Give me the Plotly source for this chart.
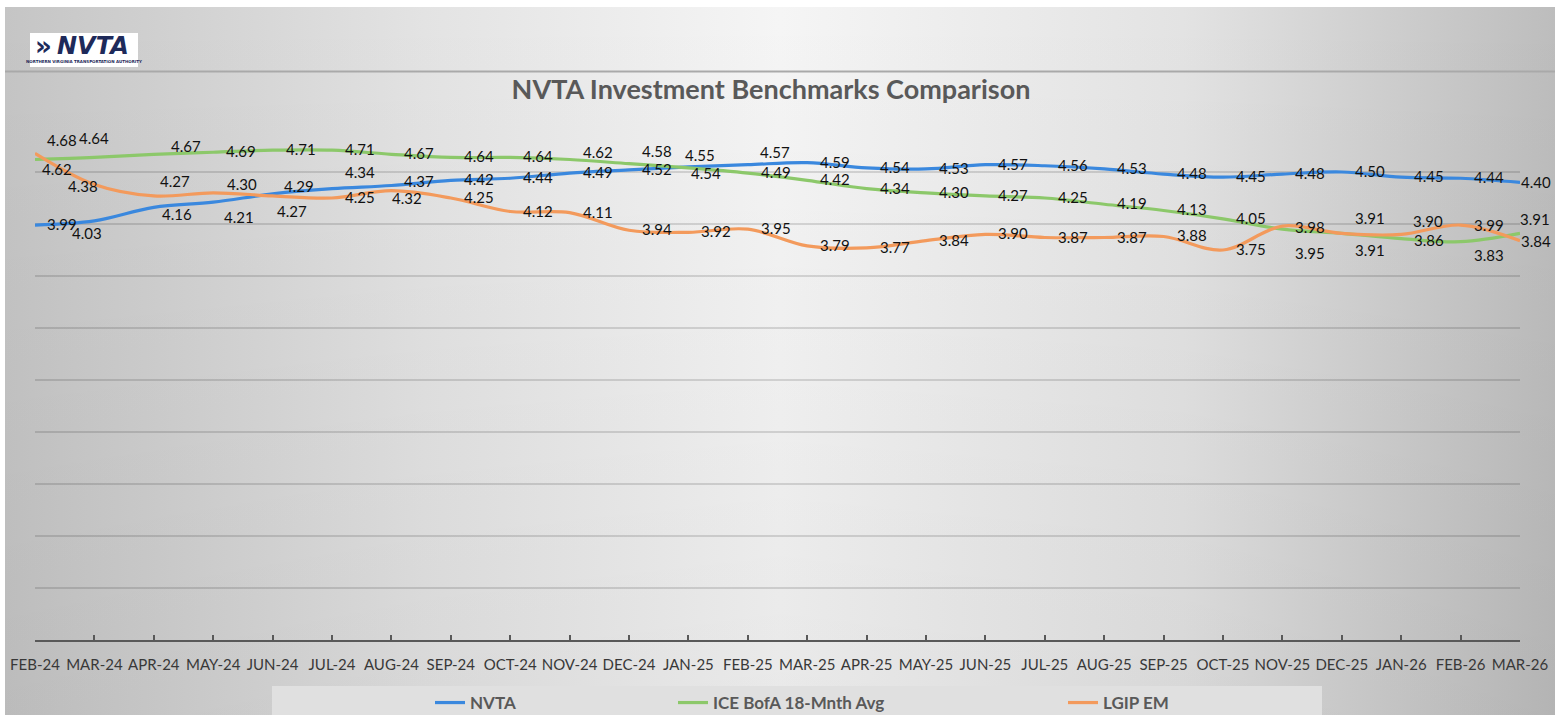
import base64
import plotly.graph_objects as go

# ---------------- data ----------------
months = ["FEB-24", "MAR-24", "APR-24", "MAY-24", "JUN-24", "JUL-24", "AUG-24", "SEP-24",
          "OCT-24", "NOV-24", "DEC-24", "JAN-25", "FEB-25", "MAR-25", "APR-25", "MAY-25",
          "JUN-25", "JUL-25", "AUG-25", "SEP-25", "OCT-25", "NOV-25", "DEC-25", "JAN-26",
          "FEB-26", "MAR-26"]
nvta = [3.99, 4.03, 4.16, 4.21, 4.29, 4.34, 4.37, 4.42, 4.44, 4.49, 4.52, 4.55, 4.57,
        4.59, 4.54, 4.53, 4.57, 4.56, 4.53, 4.48, 4.45, 4.48, 4.50, 4.45, 4.44, 4.40]
ice = [4.62, 4.64, 4.67, 4.69, 4.71, 4.71, 4.67, 4.64, 4.64, 4.62, 4.58, 4.54, 4.49,
       4.42, 4.34, 4.30, 4.27, 4.25, 4.19, 4.13, 4.05, 3.95, 3.91, 3.86, 3.83, 3.91]
lgip = [4.68, 4.38, 4.27, 4.30, 4.27, 4.25, 4.32, 4.25, 4.12, 4.11, 3.94, 3.92, 3.95,
        3.79, 3.77, 3.84, 3.90, 3.87, 3.87, 3.88, 3.75, 3.98, 3.91, 3.90, 3.99, 3.84]
series_names = ["NVTA", "ICE BofA 18-Mnth Avg", "LGIP EM"]
title_text = "NVTA Investment Benchmarks Comparison"

# ---------------- styling ----------------
W, H = 1555, 715
PL, PR, PT, PB = 35, 1520, 120, 640


def px(x):
    return (x - PL) / (PR - PL)


def py(y):
    return (PB - y) / (PB - PT)


# data-label offsets in screen pixels (dx right, dy down); default (28, -1)
DEFAULT_OFF = (28, -1)
off_nvta = {0: (27, -1), 1: (-7, 12), 2: (23, 7), 3: (26, 15), 4: (26, -8), 5: (28, -17),
            6: (28, -5), 11: (12, -12), 12: (27, -13), 25: (16, 0)}
off_ice = {0: (22, 9), 1: (0, -19), 2: (32, -8), 9: (28, -8), 10: (28, -13),
           11: (18, 5), 21: (28, 24), 22: (28, 17), 23: (28, 1), 24: (28, 13),
           25: (15, -14)}
off_lgip = {0: (27, -13), 1: (-11, 2), 2: (21, -15), 3: (29, -9), 4: (19, 15),
            6: (16, 7), 21: (28, 1), 22: (28, -15), 23: (27, -13), 24: (28, 0),
            25: (16, 0)}

colors = ["#3A88DE", "#8CC86A", "#F39A5C"]
LABEL_FONT = dict(family="Lato, Carlito, sans-serif", size=15, color="#111111")

svg = (
    '<svg xmlns="http://www.w3.org/2000/svg" width="1550" height="708" '
    'viewBox="0 0 1550 708" preserveAspectRatio="none"><defs>'
    '<linearGradient id="h" x1="0" y1="0" x2="1" y2="0">'
    '<stop offset="0" stop-color="#c5c5c5"/><stop offset="0.27" stop-color="#e3e3e3"/>'
    '<stop offset="0.5" stop-color="#f5f5f5"/><stop offset="0.76" stop-color="#e3e3e3"/>'
    '<stop offset="1" stop-color="#bdbdbd"/></linearGradient>'
    '<linearGradient id="v" x1="0" y1="0" x2="0" y2="1">'
    '<stop offset="0" stop-color="#000" stop-opacity="0"/>'
    '<stop offset="1" stop-color="#000" stop-opacity="0.05"/></linearGradient></defs>'
    '<rect width="1550" height="708" fill="url(#h)"/>'
    '<rect width="1550" height="708" fill="url(#v)"/></svg>'
)
bg_src = "data:image/svg+xml;base64," + base64.b64encode(svg.encode()).decode()

fig = go.Figure()
legends = ["legend", "legend2", "legend3"]
for name, vals, col, lg in zip(series_names, [nvta, ice, lgip], colors, legends):
    fig.add_trace(go.Scatter(
        x=months, y=vals, name=name, mode="lines", showlegend=True,
        line=dict(color=col, width=3.2, shape="spline", smoothing=1),
        legend=lg, hoverinfo="x+y+name"))

annotations = []
for vals, offs in zip([nvta, ice, lgip], [off_nvta, off_ice, off_lgip]):
    for i, (m, v) in enumerate(zip(months, vals)):
        dx, dy = offs.get(i, DEFAULT_OFF)
        annotations.append(dict(
            x=m, y=v, xref="x", yref="y", text=f"{v:.2f}", showarrow=False,
            xanchor="center", yanchor="middle", xshift=dx, yshift=-dy,
            font=LABEL_FONT))

annotations += [
    dict(text="»", xref="paper", yref="paper", x=px(43), y=py(46),
         showarrow=False, xanchor="center", yanchor="middle",
         font=dict(family="DejaVu Sans", size=26, color="#1e2a5a", weight="bold")),
    dict(text="NVTA", xref="paper", yref="paper", x=px(93), y=py(46),
         showarrow=False, xanchor="center", yanchor="middle",
         font=dict(family="DejaVu Sans", size=24, color="#1e2a5a", weight="bold",
                   style="italic")),
    dict(text="NORTHERN VIRGINIA TRANSPORTATION AUTHORITY", xref="paper",
         yref="paper", x=px(84), y=py(62), showarrow=False, xanchor="center",
         yanchor="middle",
         font=dict(family="DejaVu Sans", size=4, color="#1e2a5a", weight="bold")),
]

legend_common = dict(orientation="h", yanchor="middle", xanchor="left",
                     xref="container", yref="container",
                     bgcolor="rgba(0,0,0,0)", itemwidth=30,
                     font=dict(family="Lato, sans-serif", size=17, color="#595959",
                               weight="bold"))

fig.update_layout(
    width=W, height=H, autosize=False, showlegend=True,
    margin=dict(l=PL, r=W - PR, t=PT, b=H - PB, pad=0, autoexpand=False),
    paper_bgcolor="white", plot_bgcolor="rgba(0,0,0,0)",
    title=dict(text=title_text, x=px(771), xref="paper", xanchor="center",
               y=1 - 90 / H, yref="container", yanchor="middle",
               font=dict(family="Lato, sans-serif", size=27, color="#595959",
                         weight="bold")),
    xaxis=dict(type="category", categoryorder="array", categoryarray=months,
               range=[0, len(months) - 1], showgrid=False, showline=True,
               linecolor="#595959", linewidth=2, ticks="inside", ticklen=5,
               tickwidth=1.5, tickcolor="#595959", ticklabelstandoff=10,
               tickfont=dict(family="Lato, sans-serif", size=15, color="#383838"),
               zeroline=False, fixedrange=True, automargin=False),
    yaxis=dict(range=[0, 5], dtick=0.5, showticklabels=False, showline=False,
               zeroline=False, gridcolor="rgba(0,0,0,0.13)", gridwidth=1.5,
               fixedrange=True, automargin=False),
    legend=dict(x=430 / W, y=1 - 703 / H, **legend_common),
    legend2=dict(x=673 / W, y=1 - 703 / H, **legend_common),
    legend3=dict(x=1063 / W, y=1 - 703 / H, **legend_common),
    images=[dict(source=bg_src, xref="paper", yref="paper", x=px(5), y=py(7),
                 sizex=(W - 5) / (PR - PL), sizey=(H - 7) / (PB - PT),
                 xanchor="left", yanchor="top", sizing="stretch", layer="below")],
    shapes=[
        dict(type="rect", xref="paper", yref="paper", x0=px(272), x1=px(1322),
             y0=py(720), y1=py(686), fillcolor="#e0e0e0", line=dict(width=0),
             layer="below"),
        dict(type="line", xref="paper", yref="paper", x0=px(5), x1=px(W),
             y0=py(71.5), y1=py(71.5), line=dict(color="#a9a9a9", width=2),
             layer="below"),
        dict(type="rect", xref="paper", yref="paper", x0=px(30), x1=px(138),
             y0=py(67), y1=py(33), fillcolor="white", line=dict(width=0),
             layer="below"),
    ],
    annotations=annotations,
)

fig.write_html(
    "out.html",
    config=dict(displayModeBar=False, responsive=False),
    post_script=("document.documentElement.style.margin='0';"
                 "document.body.style.margin='0';document.body.style.padding='0';"
                 "document.body.style.overflow='hidden';"),
)
